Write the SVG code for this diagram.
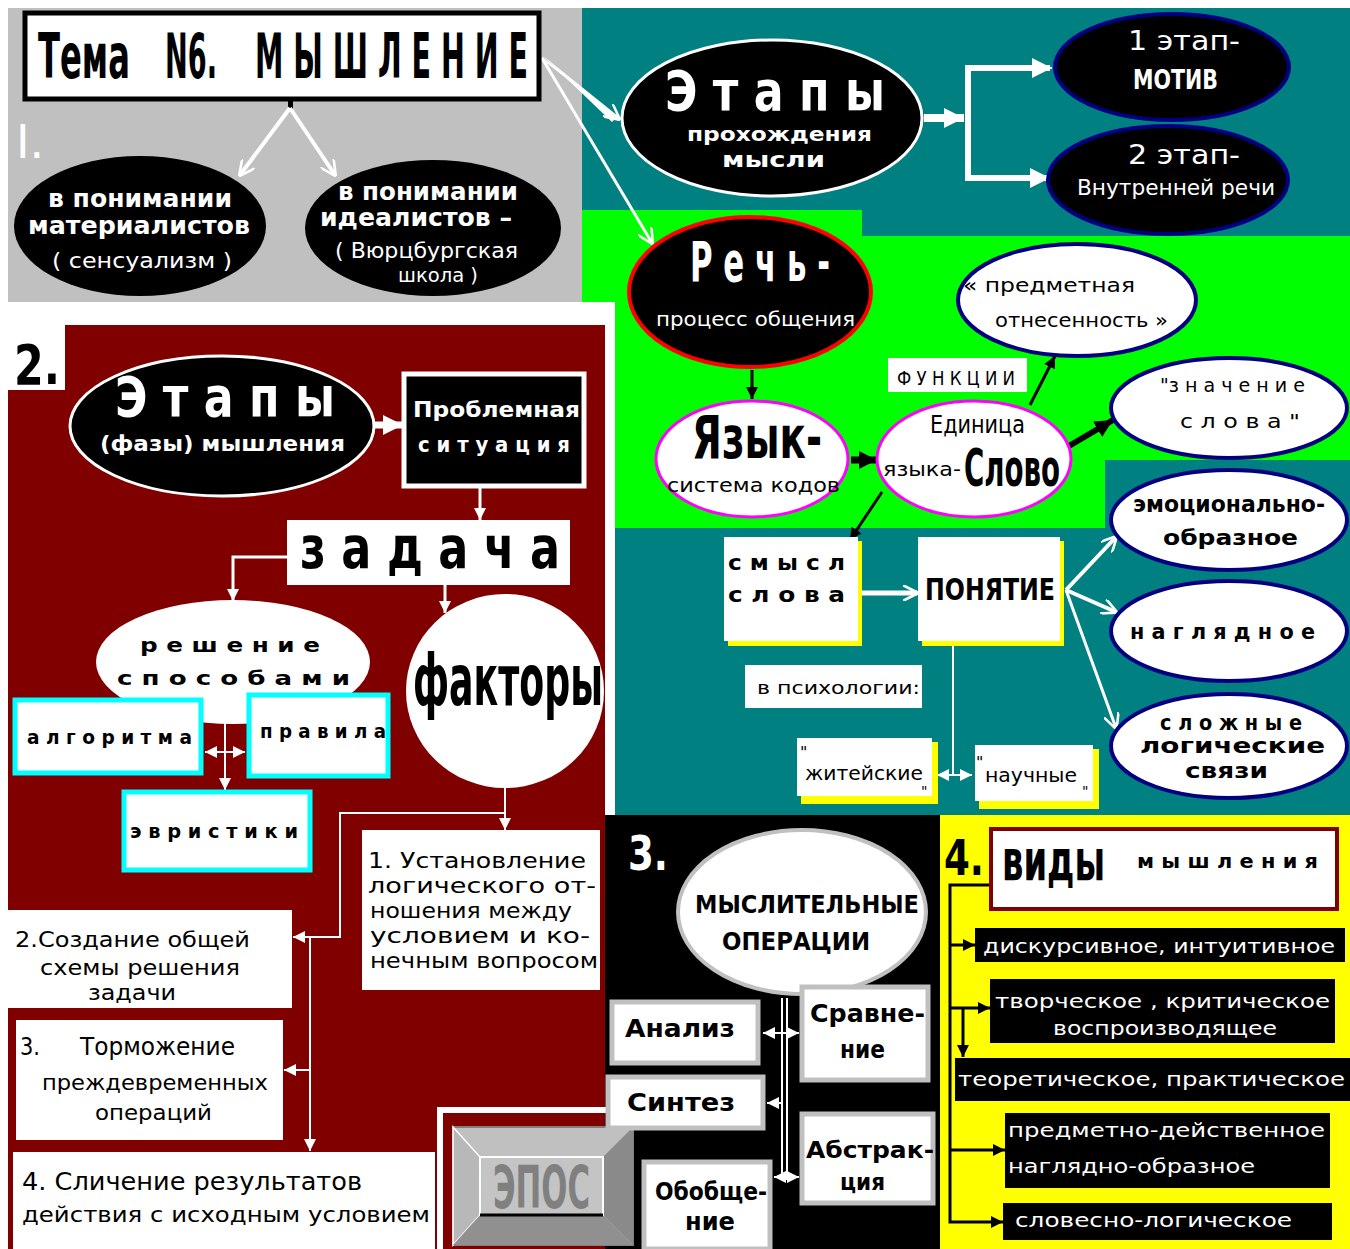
<svg xmlns="http://www.w3.org/2000/svg" width="1350" height="1249" viewBox="0 0 1350 1249">
<defs>
<style>
text{font-family:"DejaVu Sans","Liberation Sans",sans-serif;}
.w{fill:#fff}
.k{fill:#000}
.bd{font-weight:bold}
.big{font-weight:bold}
.wl{stroke:#fff;fill:none}
.kl{stroke:#000;fill:none}
</style>
<marker id="wv" viewBox="0 0 10 10" refX="9" refY="5" markerWidth="16" markerHeight="16" markerUnits="userSpaceOnUse" orient="auto"><path d="M0,0 L10,5 L0,10" fill="none" stroke="#fff" stroke-width="1.6"/></marker>
<marker id="wf" viewBox="0 0 10 10" refX="10" refY="5" markerWidth="12" markerHeight="12" markerUnits="userSpaceOnUse" orient="auto-start-reverse"><path d="M0,0 L10,5 L0,10 z" fill="#fff"/></marker>
<marker id="wb" viewBox="0 0 10 10" refX="10" refY="5" markerWidth="20" markerHeight="20" markerUnits="userSpaceOnUse" orient="auto"><path d="M0,0 L10,5 L0,10 z" fill="#fff"/></marker>
<marker id="kf" viewBox="0 0 10 10" refX="10" refY="5" markerWidth="12" markerHeight="12" markerUnits="userSpaceOnUse" orient="auto"><path d="M0,0 L10,5 L0,10 z" fill="#000"/></marker>
<marker id="kb" viewBox="0 0 10 10" refX="10" refY="5" markerWidth="18" markerHeight="18" markerUnits="userSpaceOnUse" orient="auto"><path d="M0,0 L10,5 L0,10 z" fill="#000"/></marker>
</defs>

<!-- backgrounds -->
<rect x="0" y="0" width="1350" height="1249" fill="#fff"/>
<rect x="8" y="8" width="574" height="294" fill="#c0c0c0"/>
<rect x="582" y="8" width="768" height="228" fill="#008080"/>
<path d="M582,210 H862 V236 H1350 V460 H1105 V528 H615 V302 H582 Z" fill="#00ff00"/>
<path d="M615,528 H1105 V460 H1350 V815 H615 Z" fill="#008080"/>
<path d="M65,325 H605 V1249 H8 V390 H65 Z" fill="#800000"/>
<rect x="605" y="815" width="330" height="434" fill="#000"/>
<rect x="935" y="815" width="415" height="434" fill="#ffff00"/>
<rect x="935" y="815" width="5" height="434" fill="#000"/>

<!-- connectors -->
<g id="connectors">
  <rect x="288" y="100" width="5" height="9" fill="#000"/>
  <line x1="290" y1="108" x2="240" y2="175" class="wl" stroke-width="4" marker-end="url(#wv)"/>
  <line x1="290" y1="108" x2="335" y2="175" class="wl" stroke-width="4" marker-end="url(#wv)"/>
  <path d="M542,55 L618,116 L612,122 Z" fill="#fff"/>
  <line x1="542" y1="58" x2="619" y2="119" class="wl" stroke-width="2" marker-end="url(#wv)"/>
  <line x1="542" y1="58" x2="652" y2="243" class="wl" stroke-width="3" marker-end="url(#wv)"/>
  <line x1="924" y1="118" x2="964" y2="118" class="wl" stroke-width="8" marker-end="url(#wb)"/>
  <polyline points="1050,68 968,68 968,178 1050,178" class="wl" stroke-width="6"/>
  <line x1="1030" y1="68" x2="1052" y2="68" class="wl" stroke-width="2" marker-end="url(#wb)"/>
  <line x1="1030" y1="178" x2="1050" y2="178" class="wl" stroke-width="2" marker-end="url(#wb)"/>
  <line x1="752" y1="370" x2="752" y2="399" class="kl" stroke-width="3" marker-end="url(#kf)"/>
  <line x1="851" y1="460" x2="877" y2="460" class="kl" stroke-width="7" marker-end="url(#kb)"/>
  <line x1="1030" y1="405" x2="1055" y2="356" class="kl" stroke-width="3" marker-end="url(#kf)"/>
  <line x1="1069" y1="446" x2="1113" y2="420" class="kl" stroke-width="6" marker-end="url(#kb)"/>
  <line x1="882" y1="492" x2="850" y2="540" class="kl" stroke-width="3" marker-end="url(#kf)"/>
  <line x1="860" y1="593" x2="917" y2="593" class="wl" stroke-width="5" marker-end="url(#wv)"/>
  <line x1="1066" y1="590" x2="1116" y2="537" class="wl" stroke-width="4" marker-end="url(#wv)"/>
  <line x1="1066" y1="590" x2="1116" y2="612" class="wl" stroke-width="4" marker-end="url(#wv)"/>
  <line x1="1066" y1="590" x2="1116" y2="728" class="wl" stroke-width="3" marker-end="url(#wv)"/>
  <line x1="953" y1="644" x2="953" y2="775" class="wl" stroke-width="2"/>
  <line x1="937" y1="775" x2="972" y2="775" class="wl" stroke-width="2" marker-start="url(#wf)" marker-end="url(#wf)"/>
  <line x1="375" y1="425" x2="403" y2="425" class="wl" stroke-width="7" marker-end="url(#wb)"/>
  <line x1="480" y1="488" x2="480" y2="520" class="wl" stroke-width="3" marker-end="url(#wf)"/>
  <polyline points="287,557 233,557 233,601" class="wl" stroke-width="3" marker-end="url(#wf)"/>
  <line x1="445" y1="585" x2="445" y2="613" class="wl" stroke-width="3" marker-end="url(#wf)"/>
  <line x1="205" y1="752" x2="245" y2="752" class="wl" stroke-width="2" marker-start="url(#wf)" marker-end="url(#wf)"/>
  <line x1="225" y1="721" x2="225" y2="790" class="wl" stroke-width="2" marker-end="url(#wf)"/>
  <line x1="505" y1="788" x2="505" y2="830" class="wl" stroke-width="2" marker-end="url(#wf)"/>
  <polyline points="505,813 340,813 340,937 293,937" class="wl" stroke-width="2" marker-end="url(#wf)"/>
  <line x1="310" y1="937" x2="310" y2="1151" class="wl" stroke-width="2" marker-end="url(#wf)"/>
  <line x1="310" y1="1070" x2="284" y2="1070" class="wl" stroke-width="2" marker-end="url(#wf)"/>
  <line x1="782" y1="998" x2="782" y2="1180" class="wl" stroke-width="2"/>
  <line x1="787" y1="998" x2="787" y2="1180" class="wl" stroke-width="2"/>
  <line x1="763" y1="1033" x2="799" y2="1033" class="wl" stroke-width="2" marker-start="url(#wf)" marker-end="url(#wf)"/>
  <line x1="782" y1="1103" x2="767" y2="1103" class="wl" stroke-width="2" marker-end="url(#wf)"/>
  <line x1="774" y1="1177" x2="799" y2="1177" class="wl" stroke-width="2" marker-start="url(#wf)" marker-end="url(#wf)"/>
  <polyline points="990,885 950,885 950,1222 1003,1222" class="kl" stroke-width="3" marker-end="url(#kf)"/>
  <line x1="950" y1="945" x2="975" y2="945" class="kl" stroke-width="3" marker-end="url(#kf)"/>
  <line x1="950" y1="1008" x2="990" y2="1008" class="kl" stroke-width="3" marker-end="url(#kf)"/>
  <line x1="963" y1="1008" x2="963" y2="1057" class="kl" stroke-width="3" marker-end="url(#kf)"/>
  <line x1="950" y1="1150" x2="1005" y2="1150" class="kl" stroke-width="3" marker-end="url(#kf)"/>
</g>

<!-- Region 1 -->
<g id="title">
  <rect x="25" y="13" width="514" height="86" fill="#fff" stroke="#000" stroke-width="5"/>
  <g transform="scale(1,2.1)">
    <text x="38" y="37.14" class="k big" font-size="30" textLength="92" lengthAdjust="spacingAndGlyphs">Тема</text>
    <text x="165" y="37.14" class="k big" font-size="30" textLength="52" lengthAdjust="spacingAndGlyphs">N6.</text>
    <text x="255" y="37.14" class="k big" font-size="30" textLength="273" lengthAdjust="spacingAndGlyphs">М Ы Ш Л Е Н И Е</text>
  </g>
</g>
<text x="16" y="158" class="w" font-size="46" font-family="Liberation Sans">I.</text>
<g id="n-materialists">
  <ellipse cx="140" cy="226" rx="126" ry="70" fill="#000"/>
  <text x="48" y="207" class="w bd" font-size="24" textLength="184" lengthAdjust="spacingAndGlyphs">в понимании</text>
  <text x="28" y="234" class="w bd" font-size="24" textLength="222" lengthAdjust="spacingAndGlyphs">материалистов</text>
  <text x="52" y="268" class="w" font-size="22" textLength="180" lengthAdjust="spacingAndGlyphs">( сенсуализм )</text>
</g>
<g id="n-idealists">
  <ellipse cx="433" cy="228" rx="128" ry="68" fill="#000"/>
  <text x="338" y="200" class="w bd" font-size="24" textLength="180" lengthAdjust="spacingAndGlyphs">в понимании</text>
  <text x="320" y="226" class="w bd" font-size="24" textLength="192" lengthAdjust="spacingAndGlyphs">идеалистов –</text>
  <text x="335" y="258" class="w" font-size="22" textLength="183" lengthAdjust="spacingAndGlyphs">( Вюрцбургская</text>
  <text x="398" y="282" class="w" font-size="20" textLength="80" lengthAdjust="spacingAndGlyphs">школа )</text>
</g>

<!-- Top right -->
<g id="n-stages-thought">
  <ellipse cx="772" cy="118" rx="150" ry="78" fill="#000" stroke="#fff" stroke-width="3"/>
  <text transform="scale(1,1.37)" x="665" y="80.29" class="w big" font-size="40" textLength="220" lengthAdjust="spacingAndGlyphs">Э т а п ы</text>
  <text x="687" y="141" class="w bd" font-size="20" textLength="185" lengthAdjust="spacingAndGlyphs">прохождения</text>
  <text x="722" y="167" class="w bd" font-size="21" textLength="103" lengthAdjust="spacingAndGlyphs">мысли</text>
</g>
<g id="n-stage1">
  <ellipse cx="1172" cy="67" rx="117" ry="53" fill="#000" stroke="#000080" stroke-width="4"/>
  <text x="1128" y="50" class="w" font-size="26" textLength="112" lengthAdjust="spacingAndGlyphs">1 этап-</text>
  <text x="1133" y="89" class="w bd" font-size="26" textLength="85" lengthAdjust="spacingAndGlyphs">МОТИВ</text>
</g>
<g id="n-stage2">
  <ellipse cx="1168" cy="180" rx="120" ry="54" fill="#000" stroke="#000080" stroke-width="4"/>
  <text x="1128" y="164" class="w" font-size="26" textLength="112" lengthAdjust="spacingAndGlyphs">2 этап-</text>
  <text x="1077" y="195" class="w" font-size="22" textLength="198" lengthAdjust="spacingAndGlyphs">Внутренней речи</text>
</g>

<!-- Green -->
<g id="n-speech">
  <ellipse cx="750" cy="292" rx="121" ry="75" fill="#000" stroke="#ff0000" stroke-width="4"/>
  <text transform="scale(1,1.83)" x="690" y="153.55" class="w big" font-size="30" textLength="140" lengthAdjust="spacingAndGlyphs">Р е ч ь -</text>
  <text x="656" y="326" class="w" font-size="20" textLength="199" lengthAdjust="spacingAndGlyphs">процесс общения</text>
</g>
<g id="n-language">
  <ellipse cx="752" cy="459" rx="96" ry="58" fill="#fff" stroke="#ff00ff" stroke-width="3"/>
  <text transform="scale(1,1.53)" x="692" y="299.35" class="k big" font-size="38" textLength="130" lengthAdjust="spacingAndGlyphs">Язык-</text>
  <text x="667" y="492" class="k" font-size="20" textLength="173" lengthAdjust="spacingAndGlyphs">система кодов</text>
</g>
<g id="n-word">
  <ellipse cx="974" cy="459" rx="97" ry="58" fill="#fff" stroke="#ff00ff" stroke-width="3"/>
  <text x="930" y="433" class="k" font-size="25" font-family="Liberation Serif" textLength="95" lengthAdjust="spacingAndGlyphs">Единица</text>
  <text x="883" y="476" class="k" font-size="19" textLength="78" lengthAdjust="spacingAndGlyphs">языка-</text>
  <text transform="scale(1,1.9)" x="964" y="255.79" class="k big" font-size="27" textLength="96" lengthAdjust="spacingAndGlyphs">Слово</text>
</g>
<g id="n-functions">
  <rect x="888" y="358" width="139" height="34" fill="#fff"/>
  <text x="897" y="385" class="k" font-size="20" textLength="118" lengthAdjust="spacingAndGlyphs">Ф У Н К Ц И И</text>
</g>
<g id="n-subject">
  <ellipse cx="1077" cy="300" rx="119" ry="56" fill="#fff" stroke="#000080" stroke-width="4"/>
  <text x="963" y="292" class="k" font-size="20" textLength="172" lengthAdjust="spacingAndGlyphs">« предметная</text>
  <text x="995" y="327" class="k" font-size="20" textLength="173" lengthAdjust="spacingAndGlyphs">отнесенность »</text>
</g>
<g id="n-meaning">
  <ellipse cx="1229" cy="408" rx="118" ry="50" fill="#fff" stroke="#000080" stroke-width="4"/>
  <text x="1160" y="392" class="k" font-size="20" textLength="145" lengthAdjust="spacingAndGlyphs">"з н а ч е н и е</text>
  <text x="1180" y="428" class="k" font-size="20" textLength="120" lengthAdjust="spacingAndGlyphs">с л о в а "</text>
</g>

<!-- Teal lower -->
<g id="n-emotional">
  <ellipse cx="1229" cy="520" rx="118" ry="50" fill="#fff" stroke="#000080" stroke-width="4"/>
  <text x="1133" y="512" class="k big" font-size="23" textLength="192" lengthAdjust="spacingAndGlyphs">эмоционально-</text>
  <text x="1163" y="545" class="k bd" font-size="22" textLength="135" lengthAdjust="spacingAndGlyphs">образное</text>
</g>
<g id="n-visual">
  <ellipse cx="1229" cy="631" rx="118" ry="50" fill="#fff" stroke="#000080" stroke-width="4"/>
  <text x="1130" y="639" class="k bd" font-size="22" textLength="185" lengthAdjust="spacingAndGlyphs">н а г л я д н о е</text>
</g>
<g id="n-complex">
  <ellipse cx="1229" cy="746" rx="118" ry="52" fill="#fff" stroke="#000080" stroke-width="4"/>
  <text x="1160" y="730" class="k bd" font-size="21" textLength="142" lengthAdjust="spacingAndGlyphs">с л о ж н ы е</text>
  <text x="1140" y="753" class="k bd" font-size="21" textLength="185" lengthAdjust="spacingAndGlyphs">логические</text>
  <text x="1185" y="778" class="k bd" font-size="21" textLength="83" lengthAdjust="spacingAndGlyphs">связи</text>
</g>
<g id="n-sense">
  <rect x="728" y="541" width="134" height="105" fill="#ffff00"/>
  <rect x="724" y="537" width="134" height="104" fill="#fff"/>
  <text x="728" y="570" class="k bd" font-size="22" textLength="117" lengthAdjust="spacingAndGlyphs">с м ы с л</text>
  <text x="728" y="602" class="k bd" font-size="22" textLength="117" lengthAdjust="spacingAndGlyphs">с л о в а</text>
</g>
<g id="n-concept">
  <rect x="922" y="541" width="142" height="105" fill="#ffff00"/>
  <rect x="918" y="537" width="142" height="104" fill="#fff"/>
  <text transform="scale(1,1.3)" x="925" y="461.5" class="k bd" font-size="23" textLength="130" lengthAdjust="spacingAndGlyphs">ПОНЯТИЕ</text>
</g>
<g id="n-psych">
  <rect x="745" y="665" width="177" height="43" fill="#fff"/>
  <text x="757" y="694" class="k" font-size="18" textLength="163" lengthAdjust="spacingAndGlyphs">в психологии:</text>
</g>
<g id="n-everyday">
  <rect x="801" y="742" width="137" height="62" fill="#ffff00"/>
  <rect x="797" y="738" width="135" height="58" fill="#fff"/>
  <text x="800" y="758" class="k" font-size="16">"</text>
  <text x="805" y="780" class="k" font-size="20" textLength="118" lengthAdjust="spacingAndGlyphs">житейские</text>
  <text x="921" y="796" class="k" font-size="14">"</text>
</g>
<g id="n-scientific">
  <rect x="979" y="749" width="120" height="60" fill="#ffff00"/>
  <rect x="975" y="745" width="118" height="56" fill="#fff"/>
  <text x="976" y="768" class="k" font-size="16">"</text>
  <text x="985" y="782" class="k" font-size="20" textLength="92" lengthAdjust="spacingAndGlyphs">научные</text>
  <text x="1082" y="796" class="k" font-size="14">"</text>
</g>

<!-- Region 2 -->
<rect x="8" y="325" width="57" height="65" fill="#fff"/>
<text transform="scale(1,1.25)" x="14" y="307.2" class="k big" font-size="44" textLength="46" lengthAdjust="spacingAndGlyphs">2.</text>
<g id="n-phases">
  <ellipse cx="222" cy="426" rx="152" ry="70" fill="#000" stroke="#fff" stroke-width="3"/>
  <text transform="scale(1,1.37)" x="115" y="303.65" class="w big" font-size="40" textLength="220" lengthAdjust="spacingAndGlyphs">Э т а п ы</text>
  <text x="100" y="451" class="w bd" font-size="22" textLength="245" lengthAdjust="spacingAndGlyphs">(фазы) мышления</text>
</g>
<g id="n-problem">
  <rect x="404" y="374" width="180" height="112" fill="#000" stroke="#fff" stroke-width="5"/>
  <text x="413" y="417" class="w bd" font-size="22" textLength="167" lengthAdjust="spacingAndGlyphs">Проблемная</text>
  <text x="418" y="452" class="w bd" font-size="22" textLength="152" lengthAdjust="spacingAndGlyphs">с и т у а ц и я</text>
</g>
<g id="n-task">
  <rect x="287" y="520" width="283" height="65" fill="#fff"/>
  <text transform="scale(1,1.32)" x="300" y="430.3" class="k big" font-size="44" textLength="260" lengthAdjust="spacingAndGlyphs">з а д а ч а</text>
</g>
<g id="n-solution">
  <ellipse cx="233" cy="662" rx="137" ry="62" fill="#fff"/>
  <text x="140" y="652" class="k bd" font-size="20" textLength="180" lengthAdjust="spacingAndGlyphs">р е ш е н и е</text>
  <text x="117" y="685" class="k bd" font-size="20" textLength="233" lengthAdjust="spacingAndGlyphs">с п о с о б а м и</text>
</g>
<g id="n-factors">
  <ellipse cx="505" cy="691" rx="99" ry="97" fill="#fff"/>
  <text transform="scale(1,2)" x="413" y="352.5" class="k big" font-size="36" textLength="190" lengthAdjust="spacingAndGlyphs">факторы</text>
</g>
<g id="n-algorithm">
  <rect x="15" y="700" width="186" height="73" fill="#fff" stroke="#00ffff" stroke-width="5"/>
  <text x="27" y="744" class="k bd" font-size="19" textLength="165" lengthAdjust="spacingAndGlyphs">а л г о р и т м а</text>
</g>
<g id="n-rules">
  <rect x="249" y="695" width="139" height="81" fill="#fff" stroke="#00ffff" stroke-width="5"/>
  <text x="260" y="738" class="k bd" font-size="19" textLength="126" lengthAdjust="spacingAndGlyphs">п р а в и л а</text>
</g>
<g id="n-heuristics">
  <rect x="124" y="792" width="186" height="78" fill="#fff" stroke="#00ffff" stroke-width="5"/>
  <text x="130" y="838" class="k bd" font-size="19" textLength="168" lengthAdjust="spacingAndGlyphs">э в р и с т и к и</text>
</g>
<g id="n-step1">
  <rect x="362" y="830" width="238" height="160" fill="#fff"/>
  <text x="368" y="868" class="k" font-size="21" textLength="218" lengthAdjust="spacingAndGlyphs">1. Установление</text>
  <text x="368" y="893" class="k" font-size="21" textLength="228" lengthAdjust="spacingAndGlyphs">логического от-</text>
  <text x="370" y="918" class="k" font-size="21" textLength="202" lengthAdjust="spacingAndGlyphs">ношения между</text>
  <text x="370" y="943" class="k" font-size="21" textLength="220" lengthAdjust="spacingAndGlyphs">условием и ко-</text>
  <text x="370" y="968" class="k" font-size="21" textLength="228" lengthAdjust="spacingAndGlyphs">нечным вопросом</text>
</g>
<g id="n-step2">
  <rect x="8" y="910" width="284" height="98" fill="#fff"/>
  <text x="15" y="947" class="k" font-size="22" textLength="235" lengthAdjust="spacingAndGlyphs">2.Создание общей</text>
  <text x="40" y="975" class="k" font-size="22" textLength="200" lengthAdjust="spacingAndGlyphs">схемы решения</text>
  <text x="88" y="1000" class="k" font-size="22" textLength="88" lengthAdjust="spacingAndGlyphs">задачи</text>
</g>
<g id="n-step3">
  <rect x="16" y="1020" width="267" height="120" fill="#fff"/>
  <text x="20" y="1055" class="k" font-size="24" textLength="20" lengthAdjust="spacingAndGlyphs">3.</text>
  <text x="80" y="1055" class="k" font-size="24" textLength="155" lengthAdjust="spacingAndGlyphs">Торможение</text>
  <text x="42" y="1090" class="k" font-size="22" textLength="226" lengthAdjust="spacingAndGlyphs">преждевременных</text>
  <text x="95" y="1120" class="k" font-size="22" textLength="117" lengthAdjust="spacingAndGlyphs">операций</text>
</g>
<g id="n-step4">
  <rect x="13" y="1152" width="422" height="97" fill="#fff"/>
  <text x="22" y="1190" class="k" font-size="24" textLength="340" lengthAdjust="spacingAndGlyphs">4. Сличение результатов</text>
  <text x="22" y="1222" class="k" font-size="22" textLength="408" lengthAdjust="spacingAndGlyphs">действия с исходным условием</text>
</g>
<g id="n-epos">
  <path d="M440,1249 V1110 H606" fill="none" stroke="#fff" stroke-width="6"/>
  <rect x="453" y="1127" width="180" height="118" fill="#c0c0c0" stroke="#808080" stroke-width="2"/>
  <path d="M453,1127 L480,1157 L480,1215 L453,1245 Z" fill="#b8b8b8" stroke="#fff" stroke-width="1.5"/>
  <path d="M633,1127 L603,1157 L603,1215 L633,1245 Z" fill="#8a8a8a"/>
  <path d="M453,1245 L480,1215 L603,1215 L633,1245 Z" fill="#909090"/>
  <rect x="480" y="1157" width="123" height="58" fill="#c4c4c4" stroke="#fff" stroke-width="2"/>
  <line x1="480" y1="1215" x2="603" y2="1215" stroke="#000" stroke-width="3"/>
  <text transform="scale(1,1.97)" x="493" y="613.2" font-size="30" fill="#808080" class="big" textLength="97" lengthAdjust="spacingAndGlyphs">ЭПОС</text>
</g>

<!-- Region 3 -->
<text transform="scale(1,1.1)" x="628" y="790.9" class="w big" font-size="44" textLength="40" lengthAdjust="spacingAndGlyphs">3.</text>
<g id="n-operations">
  <ellipse cx="802" cy="912" rx="124" ry="82" fill="#fff" stroke="#c0c0c0" stroke-width="4"/>
  <text x="695" y="913" class="k bd" font-size="24" textLength="224" lengthAdjust="spacingAndGlyphs">МЫСЛИТЕЛЬНЫЕ</text>
  <text x="722" y="950" class="k bd" font-size="25" textLength="148" lengthAdjust="spacingAndGlyphs">ОПЕРАЦИИ</text>
</g>
<g id="n-analysis">
  <rect x="612" y="1002" width="146" height="61" fill="#fff" stroke="#c0c0c0" stroke-width="5"/>
  <text x="625" y="1037" class="k bd" font-size="24" textLength="110" lengthAdjust="spacingAndGlyphs">Анализ</text>
</g>
<g id="n-comparison">
  <rect x="802" y="987" width="126" height="93" fill="#fff" stroke="#c0c0c0" stroke-width="5"/>
  <text x="810" y="1022" class="k bd" font-size="24" textLength="115" lengthAdjust="spacingAndGlyphs">Сравне-</text>
  <text x="840" y="1058" class="k bd" font-size="24" textLength="45" lengthAdjust="spacingAndGlyphs">ние</text>
</g>
<g id="n-synthesis">
  <rect x="608" y="1077" width="155" height="51" fill="#fff" stroke="#c0c0c0" stroke-width="5"/>
  <text x="627" y="1111" class="k bd" font-size="24" textLength="108" lengthAdjust="spacingAndGlyphs">Синтез</text>
</g>
<g id="n-abstraction">
  <rect x="802" y="1114" width="131" height="89" fill="#fff" stroke="#c0c0c0" stroke-width="5"/>
  <text x="806" y="1158" class="k bd" font-size="23" textLength="128" lengthAdjust="spacingAndGlyphs">Абстрак-</text>
  <text x="840" y="1190" class="k bd" font-size="23" textLength="45" lengthAdjust="spacingAndGlyphs">ция</text>
</g>
<g id="n-generalization">
  <rect x="644" y="1162" width="126" height="87" fill="#fff" stroke="#c0c0c0" stroke-width="5"/>
  <text x="655" y="1200" class="k bd" font-size="24" textLength="112" lengthAdjust="spacingAndGlyphs">Обобще-</text>
  <text x="685" y="1230" class="k bd" font-size="24" textLength="50" lengthAdjust="spacingAndGlyphs">ние</text>
</g>

<!-- Region 4 -->
<text transform="scale(1,1.15)" x="944" y="760.87" class="k big" font-size="44" textLength="40" lengthAdjust="spacingAndGlyphs">4.</text>
<g id="n-types">
  <rect x="991" y="829" width="346" height="80" fill="#fff" stroke="#800000" stroke-width="4"/>
  <text transform="scale(1,1.75)" x="1002" y="502.86" class="k big" font-size="33" textLength="103" lengthAdjust="spacingAndGlyphs">виды</text>
  <text x="1137" y="868" class="k bd" font-size="20" textLength="181" lengthAdjust="spacingAndGlyphs">м ы ш л е н и я</text>
</g>
<g id="n-discursive">
  <rect x="975" y="928" width="370" height="34" fill="#000"/>
  <text x="983" y="953" class="w" font-size="19" textLength="352" lengthAdjust="spacingAndGlyphs">дискурсивное, интуитивное</text>
</g>
<g id="n-creative">
  <rect x="990" y="979" width="345" height="64" fill="#000"/>
  <text x="995" y="1008" class="w" font-size="19" textLength="335" lengthAdjust="spacingAndGlyphs">творческое , критическое</text>
  <text x="1053" y="1035" class="w" font-size="19" textLength="224" lengthAdjust="spacingAndGlyphs">воспроизводящее</text>
</g>
<g id="n-theoretical">
  <rect x="955" y="1058" width="395" height="43" fill="#000"/>
  <text x="958" y="1086" class="w" font-size="19" textLength="387" lengthAdjust="spacingAndGlyphs">теоретическое, практическое</text>
</g>
<g id="n-objective">
  <rect x="1005" y="1113" width="325" height="75" fill="#000"/>
  <text x="1008" y="1137" class="w" font-size="19" textLength="317" lengthAdjust="spacingAndGlyphs">предметно-действенное</text>
  <text x="1008" y="1173" class="w" font-size="19" textLength="247" lengthAdjust="spacingAndGlyphs">наглядно-образное</text>
</g>
<g id="n-verbal">
  <rect x="1003" y="1203" width="329" height="37" fill="#000"/>
  <text x="1015" y="1227" class="w" font-size="19" textLength="277" lengthAdjust="spacingAndGlyphs">словесно-логическое</text>
</g>
</svg>
